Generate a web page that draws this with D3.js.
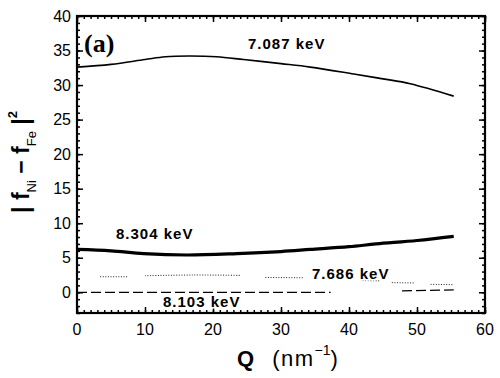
<!DOCTYPE html>
<html><head><meta charset="utf-8">
<script src="https://cdn.jsdelivr.net/npm/d3@7"></script>
<style>
html,body{margin:0;padding:0;background:#fff;}
svg{display:block;}
text{font-family:"Liberation Sans",Arial,sans-serif;fill:#000;}
</style></head>
<body>
<svg id="chart" width="500" height="378"></svg>
<script>
// ---- data ----
const qTop = [0, 5, 10, 13, 16.5, 20.5, 24.5, 30, 34.3, 40.7, 45, 49, 55.4];
const v7087 = [32.6, 33.0, 33.7, 34.1, 34.2, 34.1, 33.7, 33.1, 32.6, 31.6, 30.9, 30.2, 28.4];

const q8304 = [0, 5, 9.8, 16.2, 23.5, 30, 34.3, 40, 44, 50, 55.4];
const v8304 = [6.2, 6.0, 5.6, 5.4, 5.6, 5.9, 6.2, 6.6, 7.0, 7.5, 8.1];

const q7686 = [3.4, 7.4, null, 10, 17, 24, null, 27.7, 33.3, null, 42, 44.6, null, 46.3, 49.5, null, 52, 55.4];
const v7686 = [2.25, 2.25, null, 2.4, 2.5, 2.45, null, 2.15, 2.1, null, 1.7, 1.65, null, 1.4, 1.35, null, 1.15, 1.1];

const q8103 = [0, 37.3, null, 47.8, 55.4];
const v8103 = [0.0, 0.0, null, 0.2, 0.35];

const xTicks = [0, 10, 20, 30, 40, 50, 60];
const yTicks = [0, 5, 10, 15, 20, 25, 30, 35, 40];
const curveLabels = ["7.087 keV", "8.304 keV", "7.686 keV", "8.103 keV"];
const panelLabel = "(a)";

// ---- layout ----
const svg = d3.select("#chart");
const L = 77, R = 485, T = 16, B = 313;
const x = d3.scaleLinear().domain([0, 60]).range([L, R]);
const y = d3.scaleLinear().domain([-3, 40]).range([B, T]);

function pts(qs, vs) { return qs.map((q, i) => (q === null ? null : [q, vs[i]])); }
const line = d3.line().defined(d => d !== null).x(d => x(d[0])).y(d => y(d[1])).curve(d3.curveCatmullRom.alpha(0.5));

// curves
svg.append("path").attr("d", line(pts(qTop, v7087))).attr("fill", "none")
  .attr("stroke", "#000").attr("stroke-width", 1.6);
svg.append("path").attr("d", line(pts(q8304, v8304))).attr("fill", "none")
  .attr("stroke", "#000").attr("stroke-width", 3.2);
svg.append("path").attr("d", line(pts(q7686, v7686))).attr("fill", "none")
  .attr("stroke", "#222").attr("stroke-width", 1).attr("stroke-dasharray", "1,1.6");
svg.append("path").attr("d", line(pts(q8103, v8103))).attr("fill", "none")
  .attr("stroke", "#000").attr("stroke-width", 1.2).attr("stroke-dasharray", "10,4");

// axes (inward ticks, all four sides)
const minorX = d3.range(0, 61, 1), minorY = d3.range(-3, 41, 1);
function axis(gen, scale, vals, len, tr) {
  const a = gen(scale).tickValues(vals).tickSize(len).tickFormat("");
  const g = svg.append("g").attr("transform", tr).call(a);
  g.select(".domain").remove();
  g.selectAll("line").attr("stroke", "#000").attr("stroke-width", 1.5);
  return g;
}
axis(d3.axisTop, x, minorX, 3, `translate(0,${B})`);
axis(d3.axisTop, x, xTicks, 6, `translate(0,${B})`);
axis(d3.axisBottom, x, minorX, 3, `translate(0,${T})`);
axis(d3.axisBottom, x, xTicks, 6, `translate(0,${T})`);
axis(d3.axisRight, y, minorY, 3, `translate(${L},0)`);
axis(d3.axisRight, y, yTicks, 6, `translate(${L},0)`);
axis(d3.axisLeft, y, minorY, 3, `translate(${R},0)`);
axis(d3.axisLeft, y, yTicks, 6, `translate(${R},0)`);

svg.append("rect").attr("x", L).attr("y", T).attr("width", R - L).attr("height", B - T)
  .attr("fill", "none").attr("stroke", "#000").attr("stroke-width", 2.2);

// tick labels
svg.append("g").selectAll("text").data(xTicks).join("text")
  .attr("x", d => x(d)).attr("y", 335).attr("text-anchor", "middle")
  .attr("font-size", 16).text(d => d);
svg.append("g").selectAll("text").data(yTicks).join("text")
  .attr("x", 71).attr("y", d => y(d) + 5.5).attr("text-anchor", "end")
  .attr("font-size", 16).text(d => d);

// curve labels
const lab = [[248, 49], [116, 239], [312, 279], [163, 307]];
curveLabels.forEach((t, i) => {
  svg.append("text").attr("x", lab[i][0]).attr("y", lab[i][1])
    .attr("font-size", 15).attr("font-weight", "bold").attr("letter-spacing", 1)
    .attr("stroke", "#fff").attr("stroke-width", 3).attr("paint-order", "stroke")
    .text(t);
});

// panel label
svg.append("text").attr("x", 84).attr("y", 52)
  .style("font-family", "'Liberation Serif','Times New Roman',serif")
  .attr("font-size", 26).attr("font-weight", "bold").text(panelLabel);

// x-axis title
const xt = svg.append("text").attr("x", 237).attr("y", 366).attr("font-size", 22);
xt.append("tspan").attr("font-weight", "bold").text("Q");
xt.append("tspan").attr("dx", 18).attr("letter-spacing", 1.5).text("(nm");
xt.append("tspan").attr("font-size", 14).attr("dy", -11).text("−1");
xt.append("tspan").attr("dy", 11).text(")");

// y-axis title
const yt = svg.append("text").attr("transform", "translate(29,162) rotate(-90)")
  .attr("text-anchor", "middle").attr("font-size", 23).attr("font-weight", "bold");
yt.append("tspan").text("| f");
yt.append("tspan").attr("font-size", 13).attr("font-weight", "normal").attr("dy", 7).text("Ni");
yt.append("tspan").attr("dy", -7).text(" − f");
yt.append("tspan").attr("font-size", 13).attr("font-weight", "normal").attr("dy", 7).text("Fe");
yt.append("tspan").attr("dy", -7).text(" |");
yt.append("tspan").attr("font-size", 13).attr("dy", -12).text("2");
</script>
</body></html>
